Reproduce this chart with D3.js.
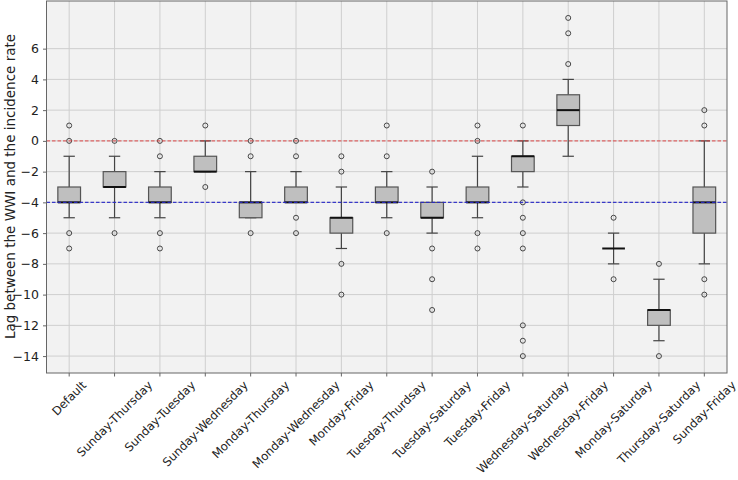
<!DOCTYPE html>
<html>
<head>
<meta charset="utf-8">
<script src="https://cdn.jsdelivr.net/npm/d3@7"></script>
<style>
  html, body { margin: 0; padding: 0; background: #ffffff; }
  svg { display: block; }
  text { font-family: "DejaVu Sans", sans-serif; }
</style>
</head>
<body>
<svg id="chart" width="738" height="480"></svg>
<script>
const categories = ["Default", "Sunday-Thursday", "Sunday-Tuesday", "Sunday-Wednesday",
  "Monday-Thursday", "Monday-Wednesday", "Monday-Friday", "Tuesday-Thurdsay",
  "Tuesday-Saturday", "Tuesday-Friday", "Wednesday-Saturday", "Wednesday-Friday",
  "Monday-Saturday", "Thursday-Saturday", "Sunday-Friday"];
const q1Values      = [-4, -3, -4, -2, -5, -4, -6, -4, -5, -4, -2, 1, -7, -12, -6];
const medianValues  = [-4, -3, -4, -2, -4, -4, -5, -4, -5, -4, -1, 2, -7, -11, -4];
const q3Values      = [-3, -2, -3, -1, -4, -3, -5, -3, -4, -3, -1, 3, -7, -11, -3];
const whiskerLow    = [-5, -5, -5, -2, -5, -4, -7, -5, -6, -5, -3, -1, -8, -13, -8];
const whiskerHigh   = [-1, -1, -2, 0, -2, -2, -3, -2, -3, -1, 0, 4, -6, -9, 0];
const outlierValues = [
  [1, 0, -6, -7],
  [0, -6],
  [0, -1, -6, -7],
  [1, -3],
  [0, -1, -6],
  [0, -1, -5, -6],
  [-1, -2, -8, -10],
  [1, -1, -6],
  [-2, -7, -9, -11],
  [1, 0, -6, -7],
  [1, -4, -5, -6, -7, -12, -13, -14],
  [5, 7, 8],
  [-5, -9],
  [-8, -14],
  [2, 1, -9, -10]
];
const yTicks = [6, 4, 2, 0, -2, -4, -6, -8, -10, -12, -14];
const refLines = [0, -4];
const yLabel = "Lag between the WWI and the incidence rate";

const svg = d3.select("#chart");
const L = 46.5, R = 727, T = 1, B = 373;

const x = d3.scaleLinear().domain([0.5, categories.length + 0.5]).range([L, R]);
const y = d3.scaleLinear().domain([-15.1, 9.1]).range([B, T]);
const boxHalf = (x(1.25) - x(1));

// background
svg.append("rect").attr("x", L).attr("y", T).attr("width", R - L).attr("height", B - T)
  .attr("fill", "#f2f2f2");

// grid
const grid = svg.append("g");
grid.selectAll("line.h").data(yTicks).enter().append("line")
  .attr("x1", L).attr("x2", R).attr("y1", d => y(d)).attr("y2", d => y(d))
  .attr("stroke", "#cfcfcf").attr("stroke-width", 1);
grid.selectAll("line.v").data(categories).enter().append("line")
  .attr("x1", (d, i) => x(i + 1)).attr("x2", (d, i) => x(i + 1))
  .attr("y1", T).attr("y2", B)
  .attr("stroke", "#cfcfcf").attr("stroke-width", 1);

// boxes
const boxes = svg.append("g");
categories.forEach((c, i) => {
  const cx = x(i + 1);
  const g = boxes.append("g");
  g.append("line").attr("x1", cx).attr("x2", cx)
    .attr("y1", y(q3Values[i])).attr("y2", y(whiskerHigh[i]))
    .attr("stroke", "#444").attr("stroke-width", 1.2);
  g.append("line").attr("x1", cx).attr("x2", cx)
    .attr("y1", y(q1Values[i])).attr("y2", y(whiskerLow[i]))
    .attr("stroke", "#444").attr("stroke-width", 1.2);
  [whiskerHigh[i], whiskerLow[i]].forEach(v => {
    g.append("line").attr("x1", cx - boxHalf / 2).attr("x2", cx + boxHalf / 2)
      .attr("y1", y(v)).attr("y2", y(v))
      .attr("stroke", "#444").attr("stroke-width", 1.2);
  });
  g.append("rect").attr("x", cx - boxHalf).attr("width", 2 * boxHalf)
    .attr("y", y(q3Values[i])).attr("height", Math.max(0, y(q1Values[i]) - y(q3Values[i])))
    .attr("fill", "#bfbfbf").attr("stroke", "#555").attr("stroke-width", 1.2);
  g.append("line").attr("x1", cx - boxHalf).attr("x2", cx + boxHalf)
    .attr("y1", y(medianValues[i])).attr("y2", y(medianValues[i]))
    .attr("stroke", "#111").attr("stroke-width", 2);
  g.selectAll("circle").data(outlierValues[i]).enter().append("circle")
    .attr("cx", cx).attr("cy", d => y(d)).attr("r", 2.5)
    .attr("fill", "none").attr("stroke", "#333").attr("stroke-width", 0.9);
});

// reference lines
const refColors = ["rgba(220,60,60,0.75)", "rgba(40,40,200,0.9)"];
svg.append("g").selectAll("line").data(refLines).enter().append("line")
  .attr("x1", L).attr("x2", R).attr("y1", d => y(d)).attr("y2", d => y(d))
  .attr("stroke", (d, i) => refColors[i]).attr("stroke-width", 1.1)
  .attr("stroke-dasharray", "3.5,2");

// frame
svg.append("rect").attr("x", L).attr("y", T).attr("width", R - L).attr("height", B - T)
  .attr("fill", "none").attr("stroke", "#666").attr("stroke-width", 1);

// y axis
const yAxis = d3.axisLeft(y).tickValues(yTicks).tickSize(3.5).tickPadding(4)
  .tickFormat(d => (d < 0 ? "\u2212" + Math.abs(d) : String(d)));
const yg = svg.append("g").attr("transform", `translate(${L},0)`).call(yAxis);
yg.select(".domain").remove();
yg.selectAll(".tick line").attr("stroke", "#666");
yg.selectAll(".tick text").attr("fill", "#222").style("font-size", "12.5px")
  .style("font-family", "DejaVu Sans");

// x axis ticks
const xg = svg.append("g");
xg.selectAll("line").data(categories).enter().append("line")
  .attr("x1", (d, i) => x(i + 1)).attr("x2", (d, i) => x(i + 1))
  .attr("y1", B).attr("y2", B + 3.5).attr("stroke", "#666");
const fs = 11.7;
xg.selectAll("text").data(categories).enter().append("text")
  .attr("text-anchor", "middle").attr("dominant-baseline", "central")
  .attr("fill", "#222").style("font-size", fs + "px")
  .text(d => d)
  .attr("transform", function(d, i) {
    const len = this.getComputedTextLength();
    const h = fs * 1.0;
    const half = (len + h) * Math.SQRT1_2 / 2;
    return `translate(${x(i + 1)},${B + 6 + half}) rotate(-45)`;
  });

// y label
svg.append("text").attr("transform", `translate(10,186.5) rotate(-90)`)
  .attr("text-anchor", "middle").attr("dominant-baseline", "central")
  .attr("fill", "#222").style("font-size", "13.5px").text(yLabel);
</script>
</body>
</html>
